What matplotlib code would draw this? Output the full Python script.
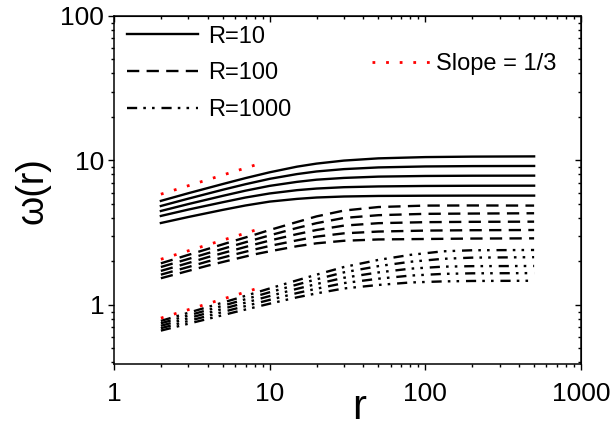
import matplotlib
matplotlib.use("Agg")
import matplotlib.pyplot as plt
from matplotlib.ticker import FuncFormatter, NullFormatter

plt.rcParams['font.family'] = ['Liberation Sans', 'DejaVu Sans']

# R=10 (solid), five curves
r_solid = [2, 3, 5, 7, 10, 15, 20, 30, 50, 100, 200, 500]
w10 = [
    [5.25, 5.93, 6.87, 7.55, 8.28, 9.06, 9.51, 9.98, 10.34, 10.55, 10.63, 10.67],
    [4.84, 5.44, 6.27, 6.85, 7.46, 8.05, 8.39, 8.71, 8.95, 9.09, 9.14, 9.16],
    [4.47, 4.99, 5.69, 6.18, 6.67, 7.11, 7.36, 7.57, 7.73, 7.81, 7.84, 7.85],
    [4.13, 4.57, 5.14, 5.54, 5.91, 6.23, 6.39, 6.53, 6.61, 6.66, 6.68, 6.69],
    [3.69, 4.06, 4.55, 4.88, 5.19, 5.42, 5.54, 5.63, 5.68, 5.70, 5.71, 5.71],
]

# R=100 (dashed)
r_dash = [2, 3, 4, 6, 8, 10, 15, 20, 30, 50, 100, 200, 500]
w100 = [
    [1.94, 2.22, 2.44, 2.79, 3.06, 3.30, 3.75, 4.10, 4.50, 4.76, 4.87, 4.88, 4.87],
    [1.83, 2.08, 2.28, 2.59, 2.83, 3.03, 3.41, 3.68, 4.00, 4.18, 4.27, 4.29, 4.31],
    [1.72, 1.95, 2.14, 2.41, 2.62, 2.79, 3.09, 3.30, 3.54, 3.68, 3.74, 3.76, 3.77],
    [1.62, 1.83, 2.00, 2.24, 2.42, 2.56, 2.80, 2.97, 3.13, 3.22, 3.27, 3.29, 3.30],
    [1.53, 1.72, 1.87, 2.08, 2.24, 2.35, 2.55, 2.67, 2.78, 2.84, 2.86, 2.88, 2.89],
]

# R=1000 (dash-dot-dot)
r_ddot = [2, 3, 4, 6, 10, 15, 20, 30, 50, 80, 130, 200, 500]
w1000 = [
    [0.775, 0.882, 0.967, 1.10, 1.30, 1.48, 1.62, 1.83, 2.05, 2.22, 2.35, 2.39, 2.40],
    [0.746, 0.845, 0.922, 1.044, 1.224, 1.383, 1.504, 1.681, 1.856, 1.989, 2.085, 2.125, 2.14],
    [0.717, 0.809, 0.880, 0.991, 1.152, 1.293, 1.395, 1.542, 1.679, 1.782, 1.840, 1.855, 1.86],
    [0.690, 0.774, 0.839, 0.941, 1.084, 1.208, 1.295, 1.416, 1.519, 1.596, 1.640, 1.655, 1.66],
    [0.664, 0.741, 0.800, 0.893, 1.02, 1.129, 1.202, 1.30, 1.375, 1.43, 1.455, 1.465, 1.47],
]

# slope 1/3 guides
r_slope = [2, 8.5]
slope_lines = [[5.84, 9.46], [2.07, 3.35], [0.81, 1.31]]

fig = plt.figure(figsize=(6.12, 4.32), dpi=100)
ax = fig.add_axes([0.1863, 0.1574, 0.763, 0.8056])

lw = 1.7
h10 = h100 = h1000 = None
for w in w10:
    h10, = ax.plot(r_solid, w, color='black', linewidth=lw)
for w in w100:
    h100, = ax.plot(r_dash, w, color='black', linewidth=lw, dashes=(5.2, 3.1))
for w in w1000:
    h1000, = ax.plot(r_ddot, w, color='black', linewidth=lw,
                     dashes=(4.3, 2.6, 1.1, 2.6, 1.1, 2.9))
hs = None
for w in slope_lines:
    hs, = ax.plot(r_slope, w, color='red', linewidth=2.0, dashes=(1, 3.9))

ax.set_xscale('log')
ax.set_yscale('log')
ax.set_xlim(1, 1000)
ax.set_ylim(0.39, 100)

fmt = FuncFormatter(lambda v, _: f'{v:g}')
ax.xaxis.set_major_formatter(fmt)
ax.yaxis.set_major_formatter(fmt)
ax.xaxis.set_minor_formatter(NullFormatter())
ax.yaxis.set_minor_formatter(NullFormatter())
ax.tick_params(which='both', direction='out', width=1.0, labelsize=19)
ax.tick_params(which='major', length=4)
ax.tick_params(which='minor', length=2.5)
ax.tick_params(axis='x', pad=9)
ax.tick_params(axis='y', pad=3)
for s in ax.spines.values():
    s.set_linewidth(1.1)

# inward ticks on the top and right edges
sx = ax.secondary_xaxis('top')
sx.tick_params(which='both', direction='in', width=1.0, labeltop=False)
sx.tick_params(which='major', length=4)
sx.tick_params(which='minor', length=2.5)
sx.xaxis.set_major_formatter(NullFormatter())
sx.xaxis.set_minor_formatter(NullFormatter())
sy = ax.secondary_yaxis('right')
sy.tick_params(which='both', direction='in', width=1.0, labelright=False)
sy.tick_params(which='major', length=4)
sy.tick_params(which='minor', length=2.5)
sy.yaxis.set_major_formatter(NullFormatter())
sy.yaxis.set_minor_formatter(NullFormatter())

ax.set_xlabel('r', fontsize=30)
ax.xaxis.set_label_coords(0.525, -0.07)
ax.set_ylabel('ω(r)', fontsize=27)
ax.yaxis.set_label_coords(-0.137, 0.497)

leg1 = ax.legend([h10, h100, h1000], ['R=10', 'R=100', 'R=1000'],
                 loc='upper left', bbox_to_anchor=(0.028, 0.972),
                 frameon=False, fontsize=17, handlelength=3.0,
                 handletextpad=0.45, labelspacing=0.62,
                 borderpad=0, borderaxespad=0)
ax.add_artist(leg1)
ax.legend([hs], ['Slope = 1/3'], loc='upper left',
          bbox_to_anchor=(0.552, 0.893), frameon=False, fontsize=17,
          handlelength=2.5, handletextpad=0.2, borderpad=0, borderaxespad=0)

fig.savefig('out.png', dpi=100)
